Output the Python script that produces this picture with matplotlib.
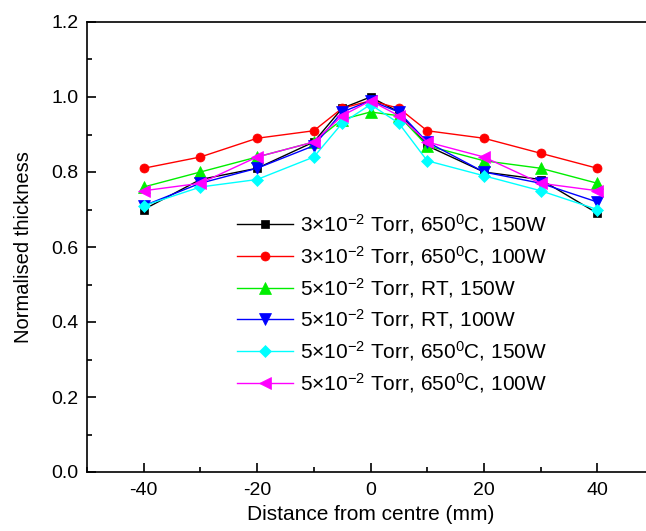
import numpy as np
import matplotlib
matplotlib.use("Agg")
import matplotlib.pyplot as plt
from matplotlib.ticker import MultipleLocator, FormatStrFormatter

plt.rcParams['font.family'] = ['Liberation Sans', 'DejaVu Sans']
plt.rcParams['mathtext.fontset'] = 'custom'
plt.rcParams['mathtext.rm'] = 'Liberation Sans'
plt.rcParams['mathtext.it'] = 'Liberation Sans'
plt.rcParams['axes.unicode_minus'] = False

# distance from centre (mm)
distance = [-40, -30, -20, -10, -5, 0, 5, 10, 20, 30, 40]

# normalised thickness for each deposition condition
t_3e2_650_150 = [0.70, 0.78, 0.81, 0.88, 0.97, 1.00, 0.96, 0.87, 0.80, 0.78, 0.69]
t_3e2_650_100 = [0.81, 0.84, 0.89, 0.91, 0.97, 0.99, 0.97, 0.91, 0.89, 0.85, 0.81]
t_5e2_rt_150 = [0.76, 0.80, 0.84, 0.88, 0.94, 0.96, 0.95, 0.87, 0.83, 0.81, 0.77]
t_5e2_rt_100 = [0.71, 0.77, 0.81, 0.87, 0.96, 0.99, 0.96, 0.88, 0.80, 0.77, 0.72]
t_5e2_650_150 = [0.71, 0.76, 0.78, 0.84, 0.93, 0.98, 0.93, 0.83, 0.79, 0.75, 0.70]
t_5e2_650_100 = [0.75, 0.77, 0.84, 0.88, 0.95, 0.99, 0.95, 0.88, 0.84, 0.77, 0.75]

labels = [
    r'3$\times$10$^{-2}$ Torr, 650$^{0}$C, 150W',
    r'3$\times$10$^{-2}$ Torr, 650$^{0}$C, 100W',
    r'5$\times$10$^{-2}$ Torr, RT, 150W',
    r'5$\times$10$^{-2}$ Torr, RT, 100W',
    r'5$\times$10$^{-2}$ Torr, 650$^{0}$C, 150W',
    r'5$\times$10$^{-2}$ Torr, 650$^{0}$C, 100W',
]
series = [t_3e2_650_150, t_3e2_650_100, t_5e2_rt_150, t_5e2_rt_100,
          t_5e2_650_150, t_5e2_650_100]
colors = ['black', 'red', '#00ee00', 'blue', 'cyan', 'magenta']
markers = ['s', 'o', '^', 'v', 'D', '<']
sizes = [5.5, 6.5, 8, 8, 6.5, 8]

fig = plt.figure(figsize=(6.46, 5.31), dpi=100)
W, H = 646, 531
ax = fig.add_axes([87 / W, (H - 472) / H, (654 - 87) / W, (472 - 22) / H])

for y, c, m, s, lab in zip(series, colors, markers, sizes, labels):
    ax.plot(distance, y, color=c, marker=m, markersize=s, linewidth=1,
            markeredgewidth=0.5, label=lab)

ax.set_xlim(-50, 50)
ax.set_ylim(0, 1.2)
ax.xaxis.set_major_locator(MultipleLocator(20))
ax.xaxis.set_minor_locator(MultipleLocator(10))
ax.yaxis.set_major_locator(MultipleLocator(0.2))
ax.yaxis.set_minor_locator(MultipleLocator(0.1))
ax.yaxis.set_major_formatter(FormatStrFormatter('%.1f'))
ax.tick_params(which='both', direction='in', top=False, right=False, labelsize=14)
ax.tick_params(which='major', length=6.5, width=1.2)
ax.tick_params(which='minor', length=3.5, width=1.2)
ax.tick_params(axis='x', pad=7.5)
ax.tick_params(axis='y', pad=6)
for sp in ax.spines.values():
    sp.set_linewidth(1.2)
ax.spines['right'].set_visible(False)

ax.set_xlabel('Distance from centre (mm)', fontsize=15, labelpad=4)
ax.set_ylabel('Normalised thickness', fontsize=14.5, labelpad=13)

ax.legend(loc='upper left', bbox_to_anchor=(237 / W, 1 - 212 / H),
          bbox_transform=fig.transFigure, frameon=False, fontsize=15,
          handlelength=2.7, handletextpad=0.34, labelspacing=0.38,
          borderpad=0, borderaxespad=0)

fig.savefig('out.png', dpi=100)
